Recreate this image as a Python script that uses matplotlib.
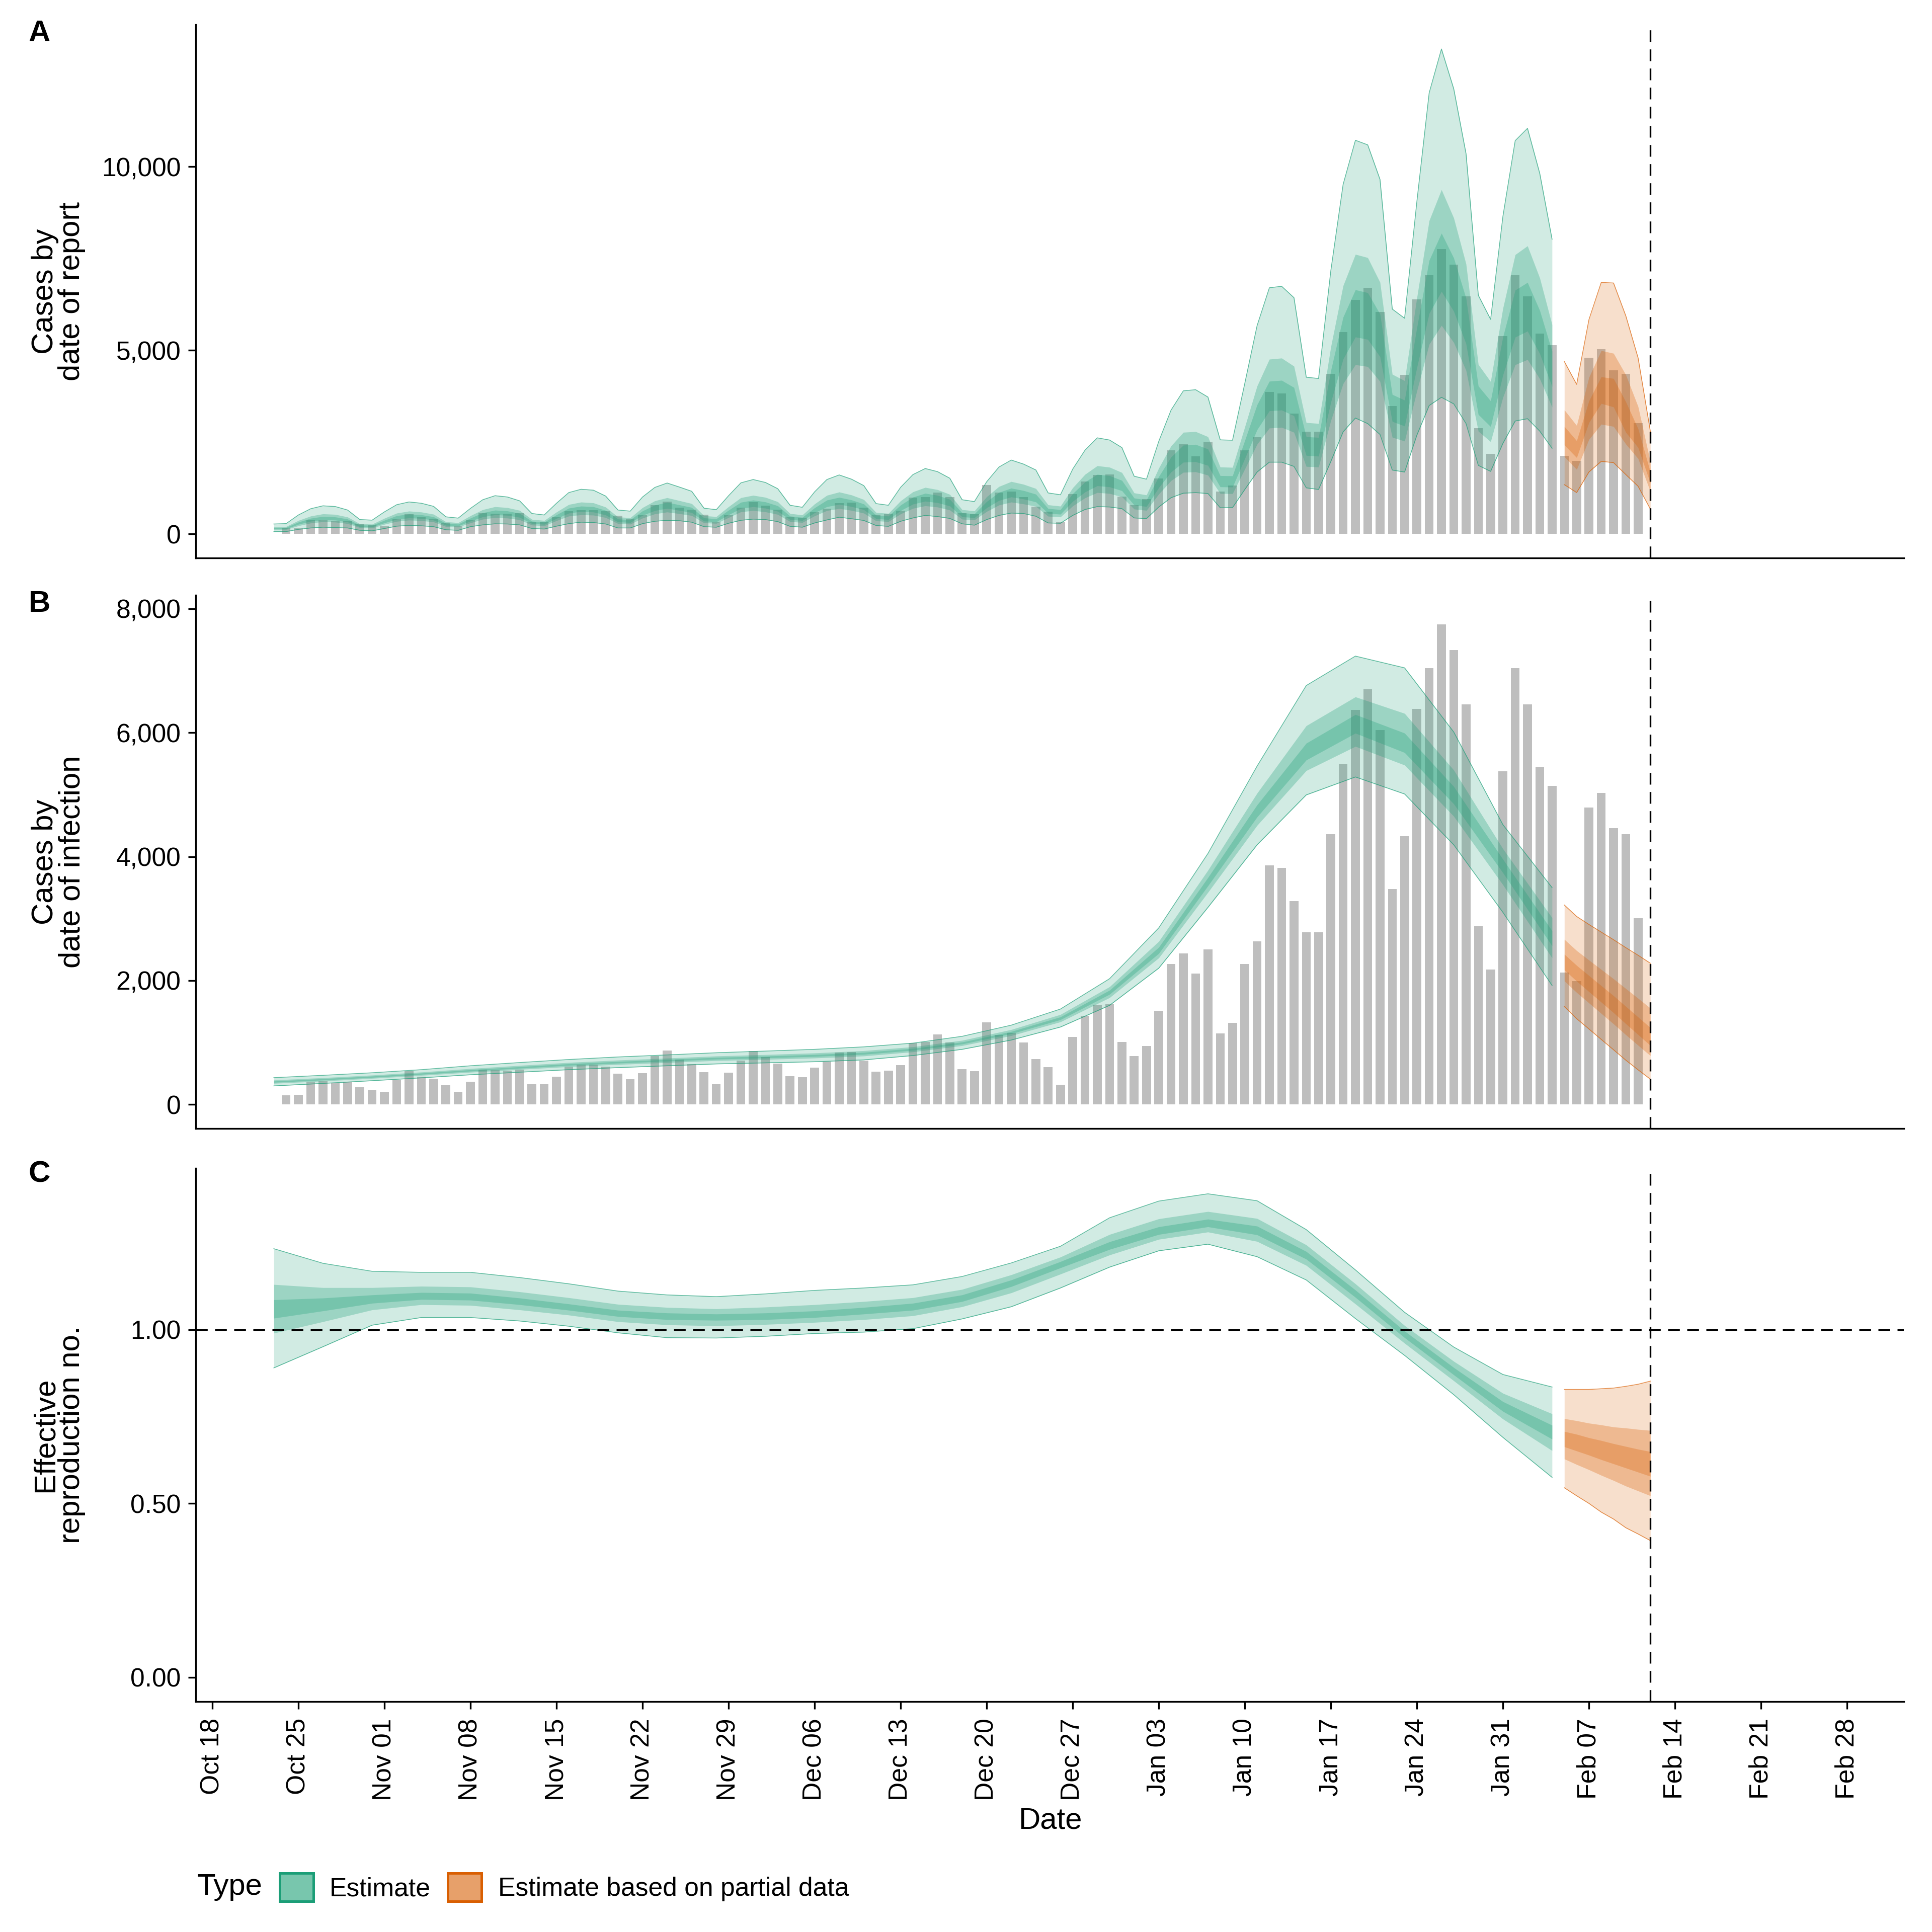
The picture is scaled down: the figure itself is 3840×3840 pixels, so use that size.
import pandas as pd
import matplotlib
matplotlib.use('Agg')
import matplotlib.pyplot as plt
import matplotlib.dates as mdates
from matplotlib.patches import Patch

plt.rcParams['font.family'] = ['Liberation Sans', 'DejaVu Sans']

GREEN = '#1b9e77'
ORANGE = '#d95f02'

# reported cases, one bar per day from 24 Oct
cases_start = '2020-10-24'
cases = [151, 153, 370, 378, 348, 364, 279, 241, 205, 397,
         540, 452, 416, 310, 203, 367, 562, 556, 548, 562,
         323, 323, 449, 614, 647, 647, 614, 501, 408, 507,
         778, 874, 721, 655, 523, 326, 515, 712, 860, 764,
         658, 458, 441, 592, 693, 838, 849, 712, 526, 548,
         636, 992, 1008, 1129, 1000, 567, 540, 1326, 1121, 1159,
         997, 737, 606, 321, 1088, 1430, 1608, 1617, 1011, 780,
         945, 1515, 2270, 2435, 2115, 2505, 1150, 1320, 2270, 2630,
         3860, 3820, 3280, 2780, 2780, 4360, 5490, 6370, 6700, 6040,
         3480, 4330, 6380, 7040, 7750, 7330, 6460, 2880, 2180, 5380,
         7040, 6460, 5450, 5140, 2130, 1990, 4790, 5030, 4460, 4360,
         3010]

est_start = '2020-10-23'
partial_start = '2021-02-05'
cutoff_date = '2021-02-12'

# panel A: cases by date of report, daily estimate
rep_hi90 = [270, 280, 515, 685, 765, 745, 650, 390, 375, 600,
            795, 870, 835, 750, 465, 430, 695, 930, 1040, 1005,
            900, 555, 515, 835, 1125, 1215, 1190, 1030, 650, 620,
            1005, 1265, 1385, 1275, 1160, 700, 660, 1040, 1390, 1480,
            1400, 1230, 780, 725, 1145, 1480, 1605, 1490, 1315, 825,
            780, 1270, 1615, 1780, 1695, 1515, 930, 880, 1420, 1820,
            2010, 1900, 1740, 1115, 1065, 1765, 2280, 2615, 2555, 2350,
            1570, 1490, 2520, 3370, 3895, 3925, 3725, 2560, 2550, 4100,
            5670, 6700, 6740, 6430, 4265, 4230, 7170, 9515, 10715, 10590,
            9650, 6120, 5870, 9050, 12005, 13200, 12115, 10350, 6495, 5840,
            8645, 10705, 11040, 9810, 8020]
rep_hi50 = [190, 200, 365, 485, 545, 530, 460, 275, 265, 425,
            565, 620, 595, 535, 330, 305, 495, 660, 740, 715,
            640, 395, 365, 595, 800, 865, 845, 730, 460, 440,
            715, 900, 985, 905, 825, 495, 470, 740, 985, 1050,
            995, 875, 555, 515, 815, 1050, 1140, 1060, 935, 585,
            555, 900, 1145, 1265, 1205, 1075, 660, 625, 1010, 1290,
            1425, 1350, 1235, 790, 755, 1255, 1620, 1855, 1815, 1670,
            1115, 1060, 1790, 2395, 2765, 2785, 2645, 1820, 1810, 2910,
            4025, 4755, 4785, 4565, 3030, 3005, 5090, 6755, 7610, 7520,
            6850, 4345, 4170, 6425, 8525, 9370, 8600, 7350, 4610, 4145,
            6140, 7600, 7840, 6965, 5695]
rep_hi20 = [170, 175, 320, 425, 475, 460, 405, 240, 235, 370,
            495, 540, 520, 465, 290, 265, 430, 575, 645, 625,
            560, 345, 320, 520, 700, 755, 740, 640, 405, 385,
            625, 785, 860, 790, 720, 435, 410, 645, 860, 920,
            870, 765, 485, 450, 710, 920, 995, 925, 815, 510,
            485, 785, 1000, 1105, 1050, 940, 575, 545, 880, 1130,
            1245, 1180, 1080, 690, 660, 1095, 1415, 1620, 1585, 1455,
            975, 925, 1560, 2090, 2415, 2435, 2310, 1585, 1580, 2540,
            3515, 4155, 4180, 3985, 2645, 2625, 4445, 5900, 6645, 6565,
            5985, 3795, 3640, 5610, 7445, 8185, 7510, 6415, 4025, 3620,
            5360, 6635, 6845, 6080, 4970]
rep_lo20 = [135, 140, 260, 345, 385, 375, 325, 195, 190, 300,
            400, 435, 420, 375, 235, 215, 350, 465, 520, 505,
            450, 280, 260, 420, 565, 610, 595, 515, 325, 310,
            505, 635, 695, 640, 580, 350, 330, 520, 695, 740,
            700, 615, 390, 365, 575, 740, 805, 745, 660, 415,
            390, 635, 810, 890, 850, 760, 465, 440, 710, 910,
            1005, 950, 870, 560, 535, 885, 1140, 1310, 1280, 1175,
            785, 745, 1260, 1685, 1950, 1965, 1865, 1280, 1275, 2050,
            2835, 3350, 3370, 3215, 2135, 2115, 3585, 4760, 5360, 5295,
            4825, 3060, 2935, 4525, 6000, 6600, 6060, 5175, 3250, 2920,
            4325, 5355, 5520, 4905, 4010]
rep_lo50 = [115, 120, 220, 295, 330, 320, 280, 170, 160, 260,
            340, 375, 360, 325, 200, 185, 300, 400, 445, 430,
            385, 240, 220, 360, 485, 520, 510, 445, 280, 265,
            430, 545, 595, 550, 500, 300, 285, 445, 600, 635,
            600, 530, 335, 310, 490, 635, 690, 640, 565, 355,
            335, 545, 695, 765, 730, 650, 400, 380, 610, 785,
            865, 815, 750, 480, 460, 760, 980, 1125, 1100, 1010,
            675, 640, 1085, 1450, 1675, 1690, 1600, 1100, 1095, 1765,
            2440, 2880, 2900, 2765, 1835, 1820, 3085, 4090, 4605, 4555,
            4150, 2630, 2525, 3890, 5160, 5675, 5210, 4450, 2795, 2510,
            3715, 4605, 4745, 4220, 3450]
rep_lo90 = [64, 64, 123, 162, 182, 172, 162, 98, 84, 147,
            211, 231, 221, 197, 113, 98, 197, 246, 275, 270,
            246, 147, 133, 211, 280, 319, 310, 270, 162, 162,
            280, 344, 369, 359, 319, 197, 182, 290, 370, 403,
            390, 335, 206, 183, 298, 380, 454, 413, 367, 229,
            206, 344, 435, 504, 472, 422, 275, 238, 390, 504,
            568, 555, 481, 298, 289, 504, 665, 743, 733, 688,
            435, 417, 733, 986, 1109, 1123, 1100, 711, 715, 1210,
            1684, 1953, 1953, 1837, 1254, 1210, 1971, 2778, 3154, 3002,
            2706, 1738, 1684, 2688, 3494, 3718, 3539, 3002, 1864, 1702,
            2464, 3073, 3136, 2796, 2330]

rep_p_hi90 = [4690, 4070, 5835, 6845, 6830, 5935, 4790, 2785]
rep_p_hi50 = [3375, 2950, 4260, 4990, 4915, 4330, 3465, 1950]
rep_p_hi20 = [2925, 2535, 3620, 4275, 4230, 3595, 2860, 1680]
rep_p_lo20 = [2420, 2075, 3030, 3550, 3455, 2765, 2350, 1380]
rep_p_lo50 = [2100, 1755, 2570, 2985, 2925, 2445, 2050, 1150]
rep_p_lo90 = [1340, 1125, 1685, 1975, 1940, 1615, 1295, 675]

# panel B: cases by date of infection, read every 4 days
inf_hi90 = [433, 471, 512, 562, 625, 677, 726, 767, 800, 835,
            862, 890, 930, 990, 1100, 1280, 1540, 2030, 2850, 4050,
            5460, 6760, 7235, 7045, 6010, 4515, 3500]
inf_hi50 = [394, 432, 474, 523, 580, 630, 678, 716, 748, 782,
            805, 831, 868, 931, 1035, 1209, 1452, 1900, 2632, 3779,
            5023, 6111, 6577, 6310, 5396, 4126, 3013]
inf_hi20 = [377, 415, 457, 506, 560, 609, 657, 693, 726, 759,
            780, 805, 841, 905, 1007, 1178, 1413, 1844, 2537, 3661,
            4834, 5829, 6292, 5992, 5130, 3957, 2802]
inf_lo20 = [357, 395, 437, 486, 538, 585, 631, 667, 699, 731,
            751, 775, 809, 875, 975, 1142, 1368, 1778, 2437, 3527,
            4638, 5558, 5991, 5678, 4850, 3739, 2559]
inf_lo50 = [340, 378, 421, 469, 520, 566, 610, 645, 676, 708,
            727, 749, 782, 849, 949, 1111, 1333, 1724, 2365, 3422,
            4503, 5387, 5778, 5476, 4650, 3545, 2365]
inf_lo90 = [300, 340, 384, 430, 480, 521, 562, 595, 625, 655,
            672, 690, 720, 790, 890, 1040, 1250, 1600, 2200, 3180,
            4190, 4995, 5285, 5010, 4190, 3100, 1920]

inf_p_hi90 = [3218, 3034, 2905, 2782, 2659, 2531, 2408, 2279]
inf_p_hi50 = [2664, 2483, 2330, 2179, 2028, 1870, 1713, 1554]
inf_p_hi20 = [2424, 2244, 2080, 1917, 1755, 1583, 1411, 1239]
inf_p_lo20 = [2172, 1990, 1820, 1651, 1481, 1303, 1127, 951]
inf_p_lo50 = [1993, 1807, 1638, 1469, 1300, 1125, 955, 787]
inf_p_lo90 = [1581, 1385, 1218, 1050, 883, 715, 559, 408]

# panel C: effective reproduction number, read every 4 days
r_hi90 = [1.233, 1.191, 1.168, 1.165, 1.165, 1.150, 1.132, 1.111, 1.100, 1.095,
          1.103, 1.113, 1.120, 1.129, 1.153, 1.192, 1.240, 1.322, 1.370, 1.391,
          1.371, 1.288, 1.172, 1.050, 0.950, 0.871, 0.835]
r_hi50 = [1.130, 1.121, 1.121, 1.125, 1.123, 1.109, 1.092, 1.073, 1.064, 1.060,
          1.065, 1.072, 1.081, 1.092, 1.116, 1.158, 1.209, 1.274, 1.319, 1.340,
          1.320, 1.244, 1.132, 1.012, 0.909, 0.817, 0.758]
r_hi20 = [1.086, 1.091, 1.100, 1.107, 1.105, 1.091, 1.074, 1.056, 1.048, 1.045,
          1.048, 1.054, 1.064, 1.076, 1.100, 1.143, 1.196, 1.253, 1.296, 1.318,
          1.298, 1.225, 1.114, 0.996, 0.891, 0.793, 0.725]
r_lo20 = [1.033, 1.054, 1.076, 1.087, 1.085, 1.072, 1.056, 1.038, 1.029, 1.027,
          1.029, 1.035, 1.045, 1.056, 1.081, 1.124, 1.178, 1.231, 1.274, 1.296,
          1.273, 1.203, 1.093, 0.977, 0.870, 0.765, 0.685]
r_lo50 = [0.990, 1.023, 1.057, 1.072, 1.070, 1.057, 1.042, 1.023, 1.014, 1.011,
          1.015, 1.021, 1.029, 1.040, 1.066, 1.106, 1.160, 1.215, 1.260, 1.281,
          1.254, 1.185, 1.074, 0.961, 0.853, 0.743, 0.652]
r_lo90 = [0.890, 0.951, 1.013, 1.035, 1.035, 1.025, 1.010, 0.991, 0.977, 0.976,
          0.981, 0.989, 0.993, 1.003, 1.031, 1.066, 1.120, 1.180, 1.227, 1.246,
          1.210, 1.143, 1.032, 0.926, 0.813, 0.690, 0.575]

r_p_hi90 = [0.828, 0.828, 0.828, 0.830, 0.832, 0.837, 0.843, 0.852]
r_p_hi50 = [0.744, 0.738, 0.731, 0.726, 0.720, 0.717, 0.713, 0.710]
r_p_hi20 = [0.707, 0.699, 0.689, 0.681, 0.672, 0.664, 0.656, 0.649]
r_p_lo20 = [0.663, 0.651, 0.639, 0.626, 0.614, 0.602, 0.590, 0.578]
r_p_lo50 = [0.628, 0.612, 0.597, 0.581, 0.566, 0.550, 0.536, 0.522]
r_p_lo90 = [0.545, 0.522, 0.500, 0.475, 0.455, 0.430, 0.412, 0.393]

week_ticks = pd.date_range('2020-10-18', '2021-02-28', freq='7D')

a_ticks = [0, 5000, 10000]
a_ticklabels = ['0', '5,000', '10,000']
b_ticks = [0, 2000, 4000, 6000, 8000]
b_ticklabels = ['0', '2,000', '4,000', '6,000', '8,000']
c_ticks = [0.0, 0.5, 1.0]
c_ticklabels = ['0.00', '0.50', '1.00']

TICK_FS = 15.5
TITLE_FS = 18


def bands(ax, x, lo90, lo50, lo20, hi20, hi50, hi90, colour):
    ax.fill_between(x, lo90, hi90, color=colour, alpha=0.2, lw=0, zorder=2)
    ax.plot(x, hi90, color=colour, lw=0.45, alpha=0.7, zorder=3)
    ax.plot(x, lo90, color=colour, lw=0.45, alpha=0.7, zorder=3)
    ax.fill_between(x, lo50, hi50, color=colour, alpha=0.29, lw=0, zorder=2)
    ax.fill_between(x, lo20, hi20, color=colour, alpha=0.29, lw=0, zorder=2)


def dashed(ax):
    ax.axvline(pd.Timestamp(cutoff_date), color='black', lw=1.0,
               ls=(0, (7, 4.4)), zorder=4)


fig = plt.figure(figsize=(16, 16), dpi=240)
left, width = 0.1014, 0.8839
ax_a = fig.add_axes([left, 0.7111, width, 0.2761])
ax_b = fig.add_axes([left, 0.4158, width, 0.2762])
ax_c = fig.add_axes([left, 0.1193, width, 0.2761])

bar_dates = pd.date_range(cases_start, periods=len(cases))
rep_dates = pd.date_range(est_start, periods=len(rep_hi90))
knot_dates = pd.date_range(est_start, periods=len(inf_hi90), freq='4D')
part_dates = pd.date_range(partial_start, periods=len(rep_p_hi90))

for ax in (ax_a, ax_b):
    ax.bar(bar_dates, cases, width=0.72, color='#bebebe', lw=0, zorder=1)

bands(ax_a, rep_dates, rep_lo90, rep_lo50, rep_lo20, rep_hi20, rep_hi50, rep_hi90, GREEN)
bands(ax_a, part_dates, rep_p_lo90, rep_p_lo50, rep_p_lo20, rep_p_hi20, rep_p_hi50, rep_p_hi90, ORANGE)
bands(ax_b, knot_dates, inf_lo90, inf_lo50, inf_lo20, inf_hi20, inf_hi50, inf_hi90, GREEN)
bands(ax_b, part_dates, inf_p_lo90, inf_p_lo50, inf_p_lo20, inf_p_hi20, inf_p_hi50, inf_p_hi90, ORANGE)
bands(ax_c, knot_dates, r_lo90, r_lo50, r_lo20, r_hi20, r_hi50, r_hi90, GREEN)
bands(ax_c, part_dates, r_p_lo90, r_p_lo50, r_p_lo20, r_p_hi20, r_p_hi50, r_p_hi90, ORANGE)

ax_c.axhline(1.0, color='black', lw=1.0, ls=(0, (7, 4.4)), zorder=4)

x0 = mdates.date2num(pd.Timestamp('2020-10-18'))
for ax in (ax_a, ax_b, ax_c):
    dashed(ax)
    ax.set_xlim(x0 - 1.34, x0 + 137.6)
    for s in ('top', 'right'):
        ax.spines[s].set_visible(False)
    for s in ('left', 'bottom'):
        ax.spines[s].set_linewidth(1.0)
    ax.tick_params(axis='y', length=4.5, width=1.0, pad=4.5, labelsize=TICK_FS)
    ax.set_xticks(week_ticks)

for ax in (ax_a, ax_b):
    ax.tick_params(axis='x', length=0, labelbottom=False)

ax_c.set_xticklabels([d.strftime('%b %d') for d in week_ticks], rotation=90)
ax_c.tick_params(axis='x', length=4.5, width=1.0, pad=5.5, labelsize=TICK_FS)

ax_a.set_ylim(-660, 13860)
ax_a.set_yticks(a_ticks, a_ticklabels)
ax_b.set_ylim(-390, 8220)
ax_b.set_yticks(b_ticks, b_ticklabels)
ax_c.set_ylim(-0.07, 1.465)
ax_c.set_yticks(c_ticks, c_ticklabels)

ylabels = ['Cases by\ndate of report', 'Cases by\ndate of infection',
           'Effective\nreproduction no.']
for ax, lab in zip((ax_a, ax_b, ax_c), ylabels):
    ax.set_ylabel(lab, fontsize=TITLE_FS, multialignment='center', linespacing=0.95)
    ax.yaxis.set_label_coords(-0.0646, 0.5)

for tag, y in zip('ABC', (0.9828, 0.6875, 0.3922)):
    fig.text(0.0204, y, tag, fontsize=TITLE_FS, fontweight='bold', ha='center', va='center')

fig.text(0.5435, 0.0575, 'Date', fontsize=TITLE_FS, ha='center', va='center')

fig.text(0.102, 0.0232, 'Type', fontsize=TITLE_FS, ha='left', va='center')
handles = [Patch(facecolor=(120 / 255, 198 / 255, 173 / 255), edgecolor=GREEN, lw=1.5),
           Patch(facecolor=(231 / 255, 160 / 255, 106 / 255), edgecolor=ORANGE, lw=1.5)]
fig.legend(handles, ['Estimate', 'Estimate based on partial data'],
           loc='center left', bbox_to_anchor=(0.1448, 0.0232), ncol=2,
           frameon=False, fontsize=TICK_FS, handlelength=1.3, handleheight=1.3,
           handletextpad=0.62, columnspacing=0.66, borderpad=0, borderaxespad=0)

fig.savefig('out.png', dpi=240)
